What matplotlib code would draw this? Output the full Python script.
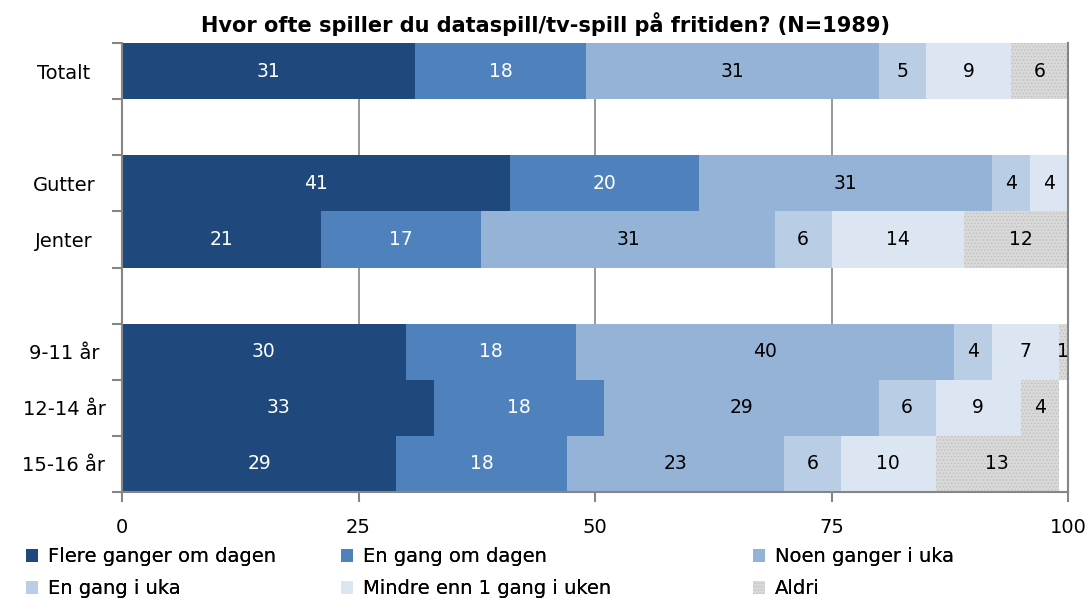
import matplotlib
matplotlib.use("Agg")
import matplotlib.pyplot as plt
import numpy as np

plt.rcParams['font.family'] = ['DejaVu Sans']
plt.rcParams['hatch.linewidth'] = 0.6

title = "Hvor ofte spiller du dataspill/tv-spill på fritiden? (N=1989)"
row_labels = ['Totalt', '', 'Gutter', 'Jenter', '', '9-11 år', '12-14 år', '15-16 år']
groups = ['Totalt', 'Gutter', 'Jenter', '9-11 år', '12-14 år', '15-16 år']
series_names = ['Flere ganger om dagen', 'En gang om dagen', 'Noen ganger i uka',
                'En gang i uka', 'Mindre enn 1 gang i uken', 'Aldri']
flere = [31, 41, 21, 30, 33, 29]
en_dag = [18, 20, 17, 18, 18, 18]
noen_uka = [31, 31, 31, 40, 29, 23]
en_uka = [5, 4, 6, 4, 6, 6]
mindre = [9, 4, 14, 7, 9, 10]
aldri = [6, 0, 12, 1, 4, 13]
xticks = [0, 25, 50, 75, 100]

series = [flere, en_dag, noen_uka, en_uka, mindre, aldri]
colors = ['#1F497D', '#4F81BD', '#95B3D7', '#B9CDE5', '#DCE6F2', '#D9D9D9']
text_colors = ['white', 'white', 'black', 'black', 'black', 'black']

fig = plt.figure(figsize=(10.91, 6.01), dpi=100)
ax = fig.add_axes([122/1091, 1-492/601, (1068-122)/1091, (492-43)/601])

ypos = [row_labels.index(g) for g in groups]
left = np.zeros(len(groups))
handles = []
for i, (vals, name) in enumerate(zip(series, series_names)):
    vals = np.array(vals, dtype=float)
    if name == 'Aldri':
        kw = dict(hatch='.....', edgecolor='#BFBFBF', linewidth=0)
    else:
        kw = dict(edgecolor='none', linewidth=0)
    b = ax.barh(ypos, vals, left=left, height=1.0, color=colors[i], label=name, zorder=2, **kw)
    handles.append(b)
    for y, l, v in zip(ypos, left, vals):
        if v > 0:
            ax.text(l + v/2, y, f"{int(v)}", ha='center', va='center',
                    color=text_colors[i], fontsize=13.5, zorder=3)
    left += vals

ax.set_xlim(0, 100)
ax.set_ylim(len(row_labels) - 0.5, -0.5)
ax.set_xticks(xticks)
ax.set_xticklabels([str(t) for t in xticks], fontsize=14)
ax.set_yticks(range(len(row_labels)))
ax.set_yticklabels(row_labels, fontsize=14, ha='center')
ax.tick_params(axis='y', length=0, pad=(122-64)*0.72)
ax.set_yticks(np.arange(-0.5, len(row_labels)), minor=True)
ax.tick_params(axis='y', which='minor', length=7, color='#868686', width=1.5)
ax.tick_params(axis='x', length=7, color='#868686', width=1.5, pad=12)
ax.xaxis.grid(True, color='#868686', linewidth=1.2, zorder=0)
ax.set_axisbelow(True)
for s in ['left', 'bottom', 'right']:
    ax.spines[s].set_color('#868686')
    ax.spines[s].set_linewidth(1.5)
ax.spines['top'].set_visible(False)

fig.text(0.5, 1 - 24/601, title, ha='center', va='center', fontsize=15, fontweight='bold')

col_x = [8, 323, 735]
for c in range(3):
    hs = [handles[c], handles[c + 3]]
    ls = [series_names[c], series_names[c + 3]]
    leg = fig.legend(hs, ls, loc='lower left', bbox_to_anchor=(col_x[c]/1091, -0.024),
                     frameon=False, fontsize=14, handlelength=0.65, handleheight=0.65,
                     handletextpad=0.5, labelspacing=0.65)
    fig.add_artist(leg)

fig.savefig('out.png', dpi=100)
